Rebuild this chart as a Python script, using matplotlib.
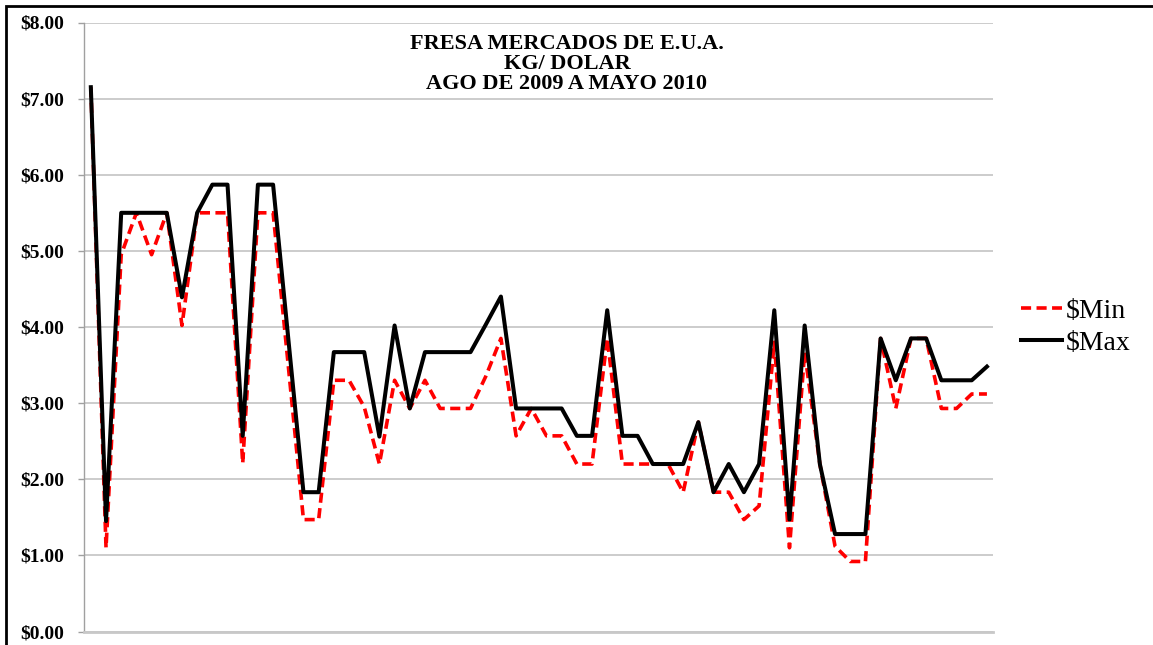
import matplotlib
matplotlib.use("Agg")
import matplotlib.pyplot as plt
from matplotlib.patches import Rectangle
from matplotlib.ticker import FixedLocator

# weekly prices, Aug 2009 - May 2010 (USD per kg)
precio_min = [7.15, 1.10, 4.95, 5.50, 4.95, 5.50, 4.02, 5.50, 5.50, 5.50,
              2.21, 5.50, 5.50, 3.49, 1.47, 1.47, 3.30, 3.30, 2.95, 2.20,
              3.30, 2.93, 3.30, 2.93, 2.93, 2.93, 3.35, 3.85, 2.57, 2.93,
              2.57, 2.57, 2.20, 2.20, 3.85, 2.20, 2.20, 2.20, 2.20, 1.83,
              2.75, 1.83, 1.83, 1.47, 1.65, 3.80, 1.10, 3.67, 2.20, 1.12,
              0.92, 0.92, 3.85, 2.93, 3.85, 3.85, 2.93, 2.93, 3.12, 3.12]
precio_max = [7.15, 1.45, 5.50, 5.50, 5.50, 5.50, 4.39, 5.50, 5.87, 5.87,
              2.57, 5.87, 5.87, 3.85, 1.83, 1.83, 3.67, 3.67, 3.67, 2.56,
              4.02, 2.93, 3.67, 3.67, 3.67, 3.67, 4.03, 4.40, 2.93, 2.93,
              2.93, 2.93, 2.57, 2.57, 4.22, 2.57, 2.57, 2.20, 2.20, 2.20,
              2.75, 1.83, 2.20, 1.83, 2.20, 4.22, 1.47, 4.02, 2.20, 1.28,
              1.28, 1.28, 3.85, 3.30, 3.85, 3.85, 3.30, 3.30, 3.30, 3.48]
y_ticks = [0, 1, 2, 3, 4, 5, 6, 7, 8]
y_labels = ['\\$%.2f' % v for v in y_ticks]
title_lines = "FRESA MERCADOS DE E.U.A.\nKG/ DOLAR\nAGO DE 2009 A MAYO 2010"

plt.rcParams['font.family'] = ['Liberation Serif', 'DejaVu Serif']

fig = plt.figure(figsize=(11.53, 6.45), dpi=100)
ax = fig.add_axes([84 / 1153, (645 - 631.5) / 645, (993 - 84) / 1153, (631.5 - 22.5) / 645])

x = list(range(len(precio_min)))
ax.plot(x, precio_min, color='#ff0000', lw=2.6, linestyle=(0, (2.8, 1.5)), label='\\$Min')
ax.plot(x, precio_max, color='black', lw=2.9, label='\\$Max')

ax.set_xlim(-0.45, len(x) - 0.6)
ax.set_ylim(0, 8)
ax.yaxis.set_major_locator(FixedLocator(y_ticks))
ax.set_yticklabels(y_labels, fontsize=14, fontweight='bold')
ax.set_xticks([])
ax.grid(axis='y', color='#c8c8c8', lw=1.3)
ax.set_axisbelow(True)
ax.tick_params(axis='y', length=4.5, color='#a0a0a0', width=1, pad=9.5)

for s in ['top', 'right']:
    ax.spines[s].set_visible(False)
ax.spines['left'].set_color('#a0a0a0')
ax.spines['left'].set_linewidth(1)
ax.spines['bottom'].set_color('#c8c8c8')
ax.spines['bottom'].set_linewidth(2)

fig.text(567 / 1153, 1 - 64 / 645, title_lines, ha='center', va='center', fontsize=16,
         fontweight='bold', linespacing=1.0)

ax.legend(loc='center left', bbox_to_anchor=(1.0, 0.5), frameon=False,
          fontsize=20, handlelength=1.5, handletextpad=0.12, labelspacing=0.22,
          borderaxespad=0.6)

# outer frame of the original chart image
fig.patches.append(Rectangle((6 / 1153, -0.1), 1.2, (645 - 6) / 645 + 0.1,
                             transform=fig.transFigure, fill=False,
                             edgecolor='black', lw=2, clip_on=False))

fig.savefig('out.png', dpi=100)
